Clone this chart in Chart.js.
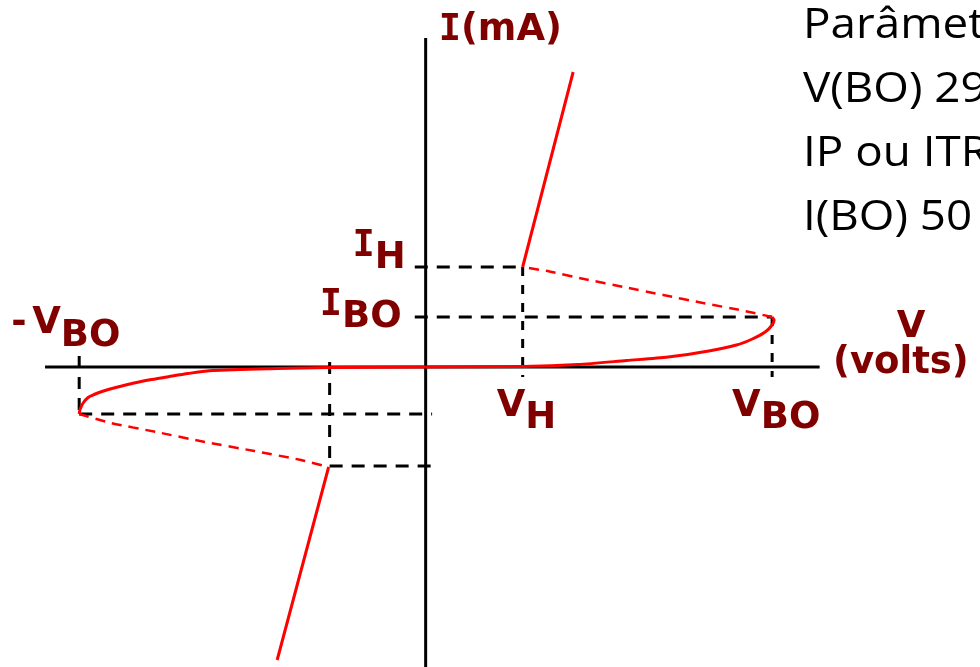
<!DOCTYPE html>
<html>
<head>
<meta charset="utf-8">
<script src="https://cdn.jsdelivr.net/npm/chart.js@4"></script>
<style>
  html, body { margin: 0; padding: 0; background: #fff; overflow: hidden; }
  canvas { display: block; }
</style>
</head>
<body>
<canvas id="diac" width="980" height="667"></canvas>
<script>
// DIAC I-V characteristic, x in volts, y in mA
const VH = 9.8, VBO = 35;
const nVH = -9.7, nVBO = -35;
const IH = 2.0, IBO = 1.0;
const nIH = -1.98, nIBO = -0.94;

// first quadrant
const forwardPos = [[0, 0], [9.8, 0.01], [15.4, 0.05], [20.3, 0.13], [24.5, 0.2], [28.6, 0.32], [31.4, 0.44],
                    [33.0, 0.56], [34.3, 0.7], [35.0, 0.84], [35.2, 0.94], [35.0, 1.0]];
const snapPos = [[35.0, 1.0], [32, 1.13], [28, 1.28], [24, 1.44], [20, 1.6], [16, 1.76], [12.5, 1.91], [9.8, 2.0]];
const onPos = [[9.8, 2.0], [14.9, 5.9]];

// third quadrant
const forwardNeg = [[0, 0], [-9.7, -0.01], [-15, -0.03], [-21.5, -0.07], [-24, -0.13], [-25.9, -0.19], [-27.7, -0.25],
                    [-29.2, -0.31], [-30.5, -0.37], [-31.7, -0.43], [-32.7, -0.49], [-33.5, -0.55], [-34.1, -0.61],
                    [-34.6, -0.72], [-34.9, -0.84], [-35.0, -0.94]];
const snapNeg = [[-35.0, -0.94], [-31.8, -1.12], [-27.2, -1.3], [-22.3, -1.5], [-17.3, -1.68], [-12.6, -1.86], [-9.8, -2.0]];
const onNeg = [[-9.8, -2.0], [-15.0, -5.86]];

// axis extents
const xAxisSpan = [-38.45, 39.8];
const yAxisSpan = [-6.0, 6.58];

const params = ["Parâmetros:", "V(BO) 29 a 35 V", "IP ou ITRM 2 A", "I(BO) 50 µA"];

const pts = a => a.map(([x, y]) => ({ x, y }));

function line(data, color, width, dash, tension, order) {
    return {
        data: pts(data),
        borderColor: color,
        borderWidth: width,
        borderDash: dash || [],
        tension: tension || 0,
        pointRadius: 0,
        fill: false,
        order: order
    };
}

const RED = "#ff0000", BLACK = "#000000", LABEL = "#800000";
const GUIDE = [13, 9];

const datasets = [
    // curve
    line(forwardPos, RED, 3, null, 0.25, 0),
    line(snapPos, RED, 2.5, [10, 7], 0.2, 0),
    line(onPos, RED, 3, null, 0, 0),
    line(forwardNeg, RED, 3, null, 0.25, 0),
    line(snapNeg, RED, 2.5, [10, 7], 0.2, 0),
    line(onNeg, RED, 3, null, 0, 0),
    // axes
    line([[xAxisSpan[0], 0], [xAxisSpan[1], 0]], BLACK, 3, null, 0, 2),
    line([[0, yAxisSpan[1]], [0, yAxisSpan[0]]], BLACK, 3, null, 0, 2),
    // guide lines
    line([[-1.1, IH], [VH, IH]], BLACK, 3, GUIDE, 0, 1),
    line([[-1.1, IBO], [VBO, IBO]], BLACK, 3, GUIDE, 0, 1),
    line([[VH, IH], [VH, -0.2]], BLACK, 3, [9, 9], 0, 1),
    line([[VBO, IBO], [VBO, -0.2]], BLACK, 3, [9, 9], 0, 1),
    line([[nVBO, 0.22], [nVBO, nIBO]], BLACK, 3, [12, 9], 0, 1),
    line([[nVH, 0.1], [nVH, nIH]], BLACK, 3, [12, 9], 0, 1),
    line([[nVBO, nIBO], [0.65, nIBO]], BLACK, 3, GUIDE, 0, 1),
    line([[nVH, nIH], [0.65, nIH]], BLACK, 3, GUIDE, 0, 1)
];

const SANS = 'bold 37px "DejaVu Sans"';
const MONO = 'bold 37px "DejaVu Sans Mono"';

// the capital I is set in the slab-serif mono face
function measure(ctx, s) {
    let w = 0;
    for (const ch of s) {
        ctx.font = ch === "I" ? MONO : SANS;
        w += ctx.measureText(ch).width;
    }
    return w;
}

function run(ctx, s, x, y) {
    for (const ch of s) {
        ctx.font = ch === "I" ? MONO : SANS;
        ctx.fillText(ch, x, y);
        x += ctx.measureText(ch).width;
    }
    return x;
}

const labelPlugin = {
    id: "diacLabels",
    afterDraw(chart) {
        const ctx = chart.ctx;
        const X = v => chart.scales.x.getPixelForValue(v);
        const Y = v => chart.scales.y.getPixelForValue(v);
        ctx.save();
        ctx.textAlign = "left";
        ctx.textBaseline = "alphabetic";
        ctx.fillStyle = LABEL;

        run(ctx, "I(mA)", X(0) + 13, Y(6.54));

        // current labels, right-aligned against the axis
        let right = X(0) - 20;
        let x = right - measure(ctx, "IH");
        x = run(ctx, "I", x, Y(IH) - 11);
        run(ctx, "H", x, Y(IH) + 1);

        right = X(0) - 24;
        x = right - measure(ctx, "IBO");
        x = run(ctx, "I", x, Y(IBO) - 2);
        run(ctx, "BO", x, Y(IBO) + 10);

        // voltage labels
        run(ctx, "-", X(nVBO) - 68, Y(0) - 34);
        x = run(ctx, "V", X(nVBO) - 47, Y(0) - 34);
        run(ctx, "BO", x, Y(0) - 21);

        x = run(ctx, "V", X(VH) - 26, Y(0) + 49);
        run(ctx, "H", x, Y(0) + 61);

        x = run(ctx, "V", X(VBO) - 40, Y(0) + 49);
        run(ctx, "BO", x, Y(0) + 61);

        // x axis title
        const vw = measure(ctx, "V");
        run(ctx, "V", 911 - vw / 2, Y(0) - 30);
        run(ctx, "(volts)", 833, Y(0) + 6);

        // parameter notes, slightly widened
        ctx.fillStyle = "#000";
        ctx.font = '42px "Open Sans"';
        ctx.translate(803, 0);
        ctx.scale(1.09, 1);
        params.forEach((t, i) => ctx.fillText(t, 0, 38 + i * 64));
        ctx.restore();
    }
};

new Chart(document.getElementById("diac"), {
    type: "line",
    data: { datasets },
    options: {
        responsive: false,
        animation: false,
        layout: { padding: 0 },
        plugins: { legend: { display: false }, tooltip: { enabled: false } },
        scales: {
            x: { type: "linear", min: -43, max: 56, display: false },
            y: { type: "linear", min: -6.0, max: 7.34, display: false }
        }
    },
    plugins: [labelPlugin]
});
</script>
</body>
</html>
